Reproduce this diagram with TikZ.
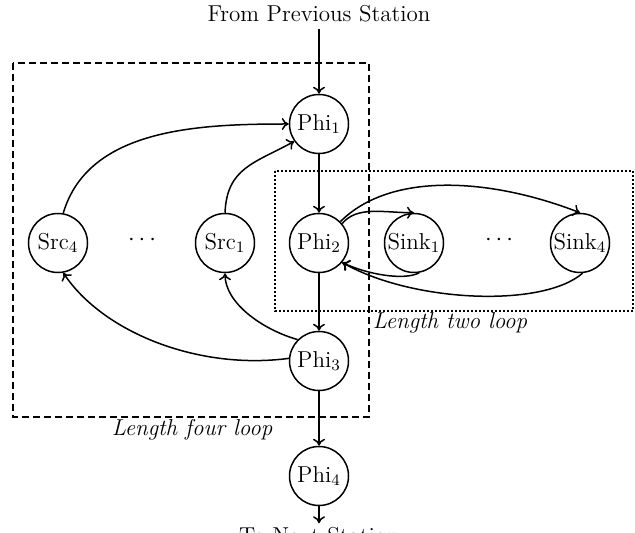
\documentclass[tikz,border=0pt]{standalone}
\usetikzlibrary{arrows.meta}
\begin{document}
\begin{tikzpicture}[x=0.5pt,y=-0.5pt,
  font=\fontsize{11.5}{13}\selectfont,
  st/.style={circle,draw,line width=0.75pt,minimum size=29.5pt,inner sep=0pt},
  ed/.style={line width=0.75pt,-{To[length=3.5pt,width=6pt]}},
  dashbox/.style={line width=0.75pt,dash pattern=on 3.5pt off 2pt},
  dotbox/.style={line width=1pt,dash pattern=on 0.8pt off 1.2pt}]
\useasboundingbox (0,0) rectangle (635,533);
\draw[dashbox] (13,63) rectangle (369,417);
\draw[dotbox] (275,171) rectangle (633,311);
\node (from) at (319,14) {From Previous Station};
\node[st] (p1) at (319,124) {Phi$_1$};
\node[st] (p2) at (319,243) {Phi$_2$};
\node[st] (p3) at (319,361) {Phi$_3$};
\node[st] (p4) at (319,476) {Phi$_4$};
\node[st] (s4) at (58,243) {Src$_4$};
\node[st] (s1) at (225,243) {Src$_1$};
\node[st] (k1) at (414,243) {Sink$_1$};
\node[st] (k4) at (580,243) {Sink$_4$};
\node (d1) at (142,240) {$\cdots$};
\node (d2) at (499,240) {$\cdots$};
\node[inner sep=2pt] (to) at (319,536) {To Next Station};
\node (l4) at (192,430) {\textit{Length four loop}};
\node (l2) at (450,323) {\textit{Length two loop}};
\draw[ed] (from) -- (p1);
\draw[ed] (p1) -- (p2);
\draw[ed] (p2) -- (p3);
\draw[ed] (p3) -- (p4);
\draw[ed] (p4) -- (to);
\draw[ed] (s4.80) .. controls +(25,-85) and +(-90,0) .. (p1.west);
\draw[ed] (s1.north) .. controls +(2,-45) and +(-40,22) .. (p1.215);
\draw[ed] (p3.135) .. controls +(-35,-10) and +(0,30) .. (s1.south);
\draw[ed] (p3.175) .. controls +(-90,12) and +(40,60) .. (s4.280);
\draw[ed] (p2.40) .. controls +(15,-18) and +(-30,0) .. (k1.north);
\draw[ed] (p2.45) .. controls +(50,-50) and +(-90,-35) .. (k4.north);
\draw[ed] (k1.280) .. controls +(-15,8) and +(25,12) .. (p2.-40);
\draw[ed] (k4.275) .. controls +(-40,35) and +(70,40) .. (p2.-40);
\end{tikzpicture}
\end{document}
